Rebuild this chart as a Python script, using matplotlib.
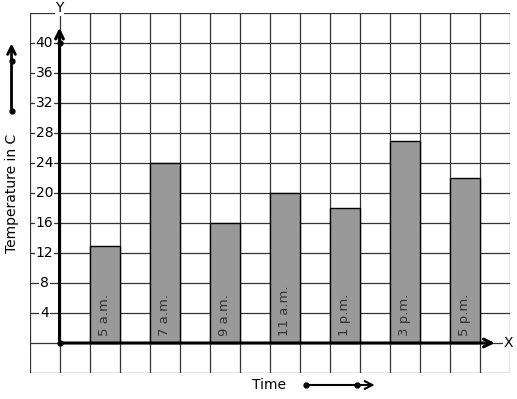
import matplotlib.pyplot as plt

times = ['5 a.m.', '7 a.m.', '9 a.m.', '11 a.m.', '1 p.m.', '3 p.m.', '5 p.m.']
temps = [13, 24, 16, 20, 18, 27, 22]
positions = [1.5, 3.5, 5.5, 7.5, 9.5, 11.5, 13.5]
yticks = [4, 8, 12, 16, 20, 24, 28, 32, 36, 40]

fig = plt.figure(figsize=(5.17, 3.99), dpi=100)
ax = fig.add_axes([29.5 / 517, 26 / 399, 480 / 517, 360 / 399])
ax.set_xlim(-1, 15)
ax.set_ylim(-4, 44)

# square grid, one cell = 1 x-unit by 4 y-units
for gx in range(-1, 16):
    ax.axvline(gx, color='#333333', lw=0.9, zorder=1)
for gy in range(-4, 45, 4):
    ax.axhline(gy, color='#333333', lw=0.9, zorder=1)
ax.set_xticks([])
ax.set_yticks([])
for s in ax.spines.values():
    s.set_visible(False)

# bars
ax.bar(positions, temps, width=1, color='#999999', edgecolor='black', lw=1, zorder=2)
for x, lab in zip(positions, times):
    ax.text(x, 1.0, lab, rotation=90, ha='center', va='bottom', fontsize=9.5,
            color='#333333', zorder=3)

# tick labels sitting on the grid lines
for t in yticks:
    ax.text(-0.5, t, str(t), ha='center', va='center', fontsize=10, zorder=3,
            bbox=dict(facecolor='white', edgecolor='none', pad=0.5))

# axes with arrows
ax.annotate('', xy=(0, 42.4), xytext=(0, 0),
            arrowprops=dict(arrowstyle='->', lw=2.2, color='black', mutation_scale=14), zorder=4)
ax.annotate('', xy=(14.6, 0), xytext=(0, 0),
            arrowprops=dict(arrowstyle='->', lw=2.2, color='black', mutation_scale=14), zorder=4)
ax.plot([0, 0], [0, 40], 'o', color='black', ms=3.5, zorder=5)
ax.text(0, 44.6, 'Y', ha='center', va='center', fontsize=10, zorder=5,
        bbox=dict(facecolor='white', edgecolor='none', pad=0.5), clip_on=False)
ax.text(14.95, 0, 'X', ha='center', va='center', fontsize=10, zorder=5,
        bbox=dict(facecolor='white', edgecolor='none', pad=0.5), clip_on=False)

# decorative arrows beside the axis titles
ax.annotate('', xy=(-1.6, 40.3), xytext=(-1.6, 30.9), annotation_clip=False,
            arrowprops=dict(arrowstyle='->', lw=2, color='black', mutation_scale=14))
ax.plot([-1.6, -1.6], [30.9, 37.6], 'o', color='black', ms=3.5, clip_on=False)
ax.text(-1.57, 20, 'Temperature in C', rotation=90, ha='center', va='center',
        fontsize=10, clip_on=False)

ax.annotate('', xy=(10.6, -5.6), xytext=(8.23, -5.6), annotation_clip=False,
            arrowprops=dict(arrowstyle='->', lw=1.5, color='black', mutation_scale=14))
ax.plot([8.23, 9.9], [-5.6, -5.6], 'o', color='black', ms=3.5, clip_on=False)
ax.text(6.97, -5.6, 'Time', ha='center', va='center', fontsize=10, clip_on=False)

plt.savefig('out.png', dpi=100)
